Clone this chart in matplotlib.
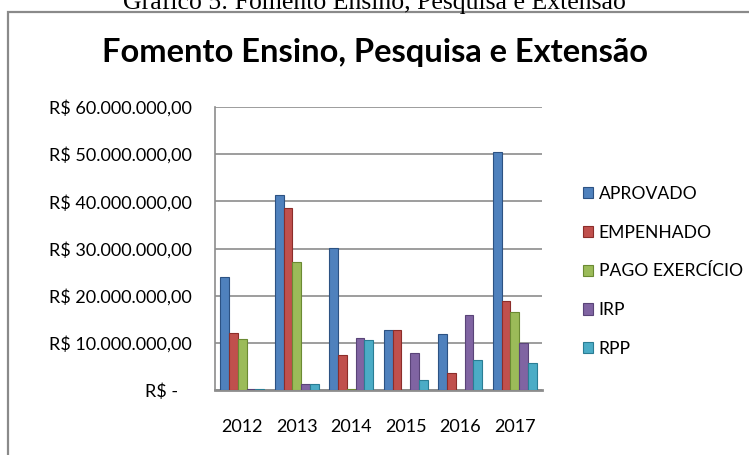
import numpy as np
import matplotlib
matplotlib.use("Agg")
from matplotlib import pyplot as plt
from matplotlib.patches import Rectangle

years = ["2012", "2013", "2014", "2015", "2016", "2017"]
series = ["APROVADO", "EMPENHADO", "PAGO EXERCÍCIO", "IRP", "RPP"]
aprovado = [24.0e6, 41.3e6, 30.2e6, 12.8e6, 11.9e6, 50.4e6]
empenhado = [12.1e6, 38.5e6, 7.4e6, 12.8e6, 3.6e6, 18.9e6]
pago_exercicio = [10.8e6, 27.2e6, 0.2e6, 0.1e6, 0.1e6, 16.6e6]
irp = [0.3e6, 1.2e6, 11.0e6, 7.8e6, 16.0e6, 10.0e6]
rpp = [0.2e6, 1.2e6, 10.6e6, 2.1e6, 6.4e6, 5.8e6]
yticks = [0, 10e6, 20e6, 30e6, 40e6, 50e6, 60e6]
ytick_labels = ["R$ -   ", "R$ 10.000.000,00", "R$ 20.000.000,00", "R$ 30.000.000,00",
                "R$ 40.000.000,00", "R$ 50.000.000,00", "R$ 60.000.000,00"]

colors = ["#4F81BD", "#C0504D", "#9BBB59", "#8064A2", "#4BACC6"]
edges = ["#2C5283", "#8C2D2A", "#6B8A33", "#5A4478", "#2A7D94"]

plt.rcParams['font.family'] = ['Lato', 'DejaVu Sans']

fig = plt.figure(figsize=(7.49, 4.55), dpi=100)

# outer chart frame (right and bottom run off the picture)
fig.patches.append(Rectangle((8 / 749, -0.1), 1.0, (455 - 12) / 455 + 0.1,
                             transform=fig.transFigure, fill=False,
                             edgecolor="#8a8a8a", linewidth=1.6))

# caption above the frame, cut by the top edge as in the original
fig.text(0.5, 1 - 9 / 455, "Gráfico 5: Fomento Ensino, Pesquisa e Extensão",
         family="Liberation Serif", fontsize=18.5, ha="center", va="baseline")
fig.text(0.5, 1 - 62 / 455, "Fomento Ensino, Pesquisa e Extensão",
         fontsize=23.5, fontweight="bold", ha="center", va="baseline")

ax = fig.add_axes([215 / 749, 65 / 455, 327 / 749, 283 / 455])

x = np.arange(len(years))
w = 0.16
data = [aprovado, empenhado, pago_exercicio, irp, rpp]
for i, vals in enumerate(data):
    ax.bar(x + (i - 2) * w, vals, w, color=colors[i], edgecolor=edges[i],
           linewidth=0.8, label=series[i], zorder=3)

ax.set_xlim(-0.5, len(years) - 0.5)
ax.set_ylim(0, 60e6)
ax.set_yticks(yticks)
ax.set_yticklabels(ytick_labels, fontsize=13)
ax.set_xticks(x)
ax.set_xticklabels(years, fontsize=13)
ax.tick_params(axis="y", length=0, pad=16.5)
ax.tick_params(axis="x", length=0, pad=21)
ax.grid(axis="y", color="#8c8c8c", linewidth=1.2, zorder=0)
for s in ["top", "right"]:
    ax.spines[s].set_visible(False)
ax.spines["left"].set_color("#8c8c8c")
ax.spines["bottom"].set_color("#8c8c8c")
ax.spines["left"].set_linewidth(1.2)
ax.spines["bottom"].set_linewidth(2.0)

ax.legend(loc="center left", bbox_to_anchor=(1.076, 0.419), frameon=False,
          fontsize=12.6, handlelength=0.62, handleheight=0.62, handletextpad=0.3,
          labelspacing=1.3)

fig.savefig("out.png", dpi=100)
